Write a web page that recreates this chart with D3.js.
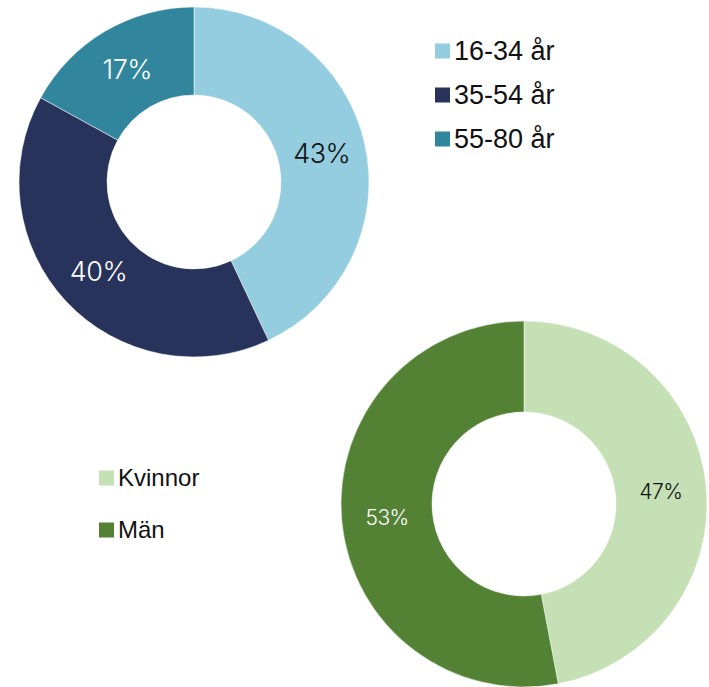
<!DOCTYPE html>
<html>
<head>
<meta charset="utf-8">
<script src="https://cdn.jsdelivr.net/npm/d3@7"></script>
<style>
  body { margin: 0; background: #fff; }
  svg { display: block; }
</style>
</head>
<body>
<script>
// age groups
const ageLabels = ["16-34 år", "35-54 år", "55-80 år"];
const ageValues = [43, 40, 17];
const ageColors = ["#94cddf", "#27335b", "#31859c"];
const ageTextColors = ["#111", "#fff", "#fff"];

// gender
const sexLabels = ["Kvinnor", "Män"];
const sexValues = [47, 53];
const sexColors = ["#c5e0b4", "#548235"];
const sexTextColors = ["#111", "#fff"];

const width = 709, height = 687;

const svg = d3.select("body").append("svg")
    .attr("width", width)
    .attr("height", height);

function donut(opts) {
  const data = opts.values.map((v, i) => ({value: v, i}));
  const pie = d3.pie().value(d => d.value).sort(null);
  const arc = d3.arc().innerRadius(opts.inner).outerRadius(opts.outer);
  const mid = (opts.inner + opts.outer) / 2;
  const labelArc = d3.arc().innerRadius(mid).outerRadius(mid);

  const g = svg.append("g")
      .attr("transform", `translate(${opts.cx},${opts.cy})`);

  const arcs = pie(data);

  g.selectAll("path")
    .data(arcs)
    .join("path")
      .attr("d", arc)
      .attr("fill", d => opts.colors[d.data.i])
      .attr("stroke", "#fff")
      .attr("stroke-width", 0.5);

  g.selectAll("text")
    .data(arcs)
    .join("text")
      .attr("transform", d => `translate(${labelArc.centroid(d)})`)
      .attr("text-anchor", "middle")
      .attr("dy", "0.36em")
      .attr("fill", d => opts.textColors[d.data.i])
      .style("font", `300 ${opts.fontSize}px Inter, sans-serif`)
      .style("letter-spacing", "-0.5px")
      .text(d => d.data.value + "%");
}

function legend(opts) {
  const g = svg.append("g")
      .attr("transform", `translate(${opts.x},${opts.y})`);
  const item = g.selectAll("g")
    .data(opts.labels)
    .join("g")
      .attr("transform", (d, i) => `translate(0,${i * opts.step})`);
  item.append("rect")
      .attr("x", 0)
      .attr("y", -opts.box / 2)
      .attr("width", opts.box)
      .attr("height", opts.box)
      .attr("fill", (d, i) => opts.colors[i]);
  item.append("text")
      .attr("x", opts.box + 4)
      .attr("dy", "0.35em")
      .attr("fill", "#111")
      .style("font", `${opts.fontSize}px "Liberation Sans", Arial, sans-serif`)
      .text(d => d);
}

donut({cx: 194, cy: 182, inner: 87, outer: 175, values: ageValues,
       colors: ageColors, textColors: ageTextColors, fontSize: 27});
legend({x: 435, y: 51, step: 44, box: 15, labels: ageLabels,
        colors: ageColors, fontSize: 27});

donut({cx: 524, cy: 504, inner: 92, outer: 183, values: sexValues,
       colors: sexColors, textColors: sexTextColors, fontSize: 21});
legend({x: 99, y: 478, step: 52, box: 15, labels: sexLabels,
        colors: sexColors, fontSize: 24});
</script>
</body>
</html>
